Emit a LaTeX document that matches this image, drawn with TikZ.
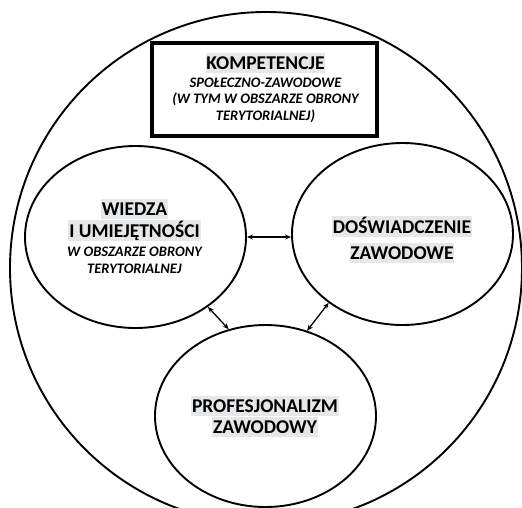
\documentclass[tikz,border=0pt]{standalone}
\usepackage{fontspec}
\setmainfont{Carlito}
\usetikzlibrary{shapes.geometric,arrows.meta}
\definecolor{hlgray}{RGB}{230,231,232}
\newcommand\hlx[1]{{\setlength{\fboxsep}{0.8pt}\colorbox{hlgray}{\rule[-3pt]{0pt}{18pt}#1}}}
\begin{document}
\begin{tikzpicture}[x=1pt,y=-1pt,
  oval/.style={ellipse,draw,line width=1.9pt,minimum width=221pt,minimum height=182pt,inner sep=0pt},
  bigtxt/.style={anchor=base,inner sep=0pt,font=\fontsize{19.5}{22}\selectfont\bfseries},
  smalltxt/.style={anchor=base,inner sep=0pt,font=\fontsize{14.5}{16.5}\selectfont\bfseries\itshape},
  biarrow/.style={{Stealth[length=6pt,width=5pt]}-{Stealth[length=6pt,width=5pt]},line width=1.3pt}]
\clip (0,0) rectangle (522,507);
\fill[white] (0,0) rectangle (522,507);
\node[circle,draw,line width=1.9pt,minimum size=512pt,inner sep=0pt] (outer) at (266,268) {};
\node[draw,line width=3.2pt,minimum width=225pt,minimum height=93pt,inner sep=0pt] (box) at (264.5,89.5) {};
\node[oval] (L) at (135.5,237) {};
\node[oval] (R) at (402.5,234) {};
\node[oval] (B) at (265.5,416) {};
% texts
\node[bigtxt] (k1) at (265.5,69) {\hlx{KOMPETENCJE}};
\node[smalltxt] (k2) at (265.5,87) {SPOŁECZNO-ZAWODOWE};
\node[smalltxt] (k3) at (265.5,103.5) {(W TYM W OBSZARZE OBRONY};
\node[smalltxt] (k4) at (265.5,120) {TERYTORIALNEJ)};
\node[bigtxt] (w1) at (134.5,215) {\hlx{WIEDZA}};
\node[bigtxt] (w2) at (134.5,237) {\hlx{I UMIEJĘTNOŚCI}};
\node[smalltxt] (w3) at (134.5,256) {W OBSZARZE OBRONY};
\node[smalltxt] (w4) at (134.5,273) {TERYTORIALNEJ};
\node[bigtxt] (d1) at (402,233) {\hlx{DOŚWIADCZENIE}};
\node[bigtxt] (d2) at (402,259) {\hlx{ZAWODOWE}};
\node[bigtxt] (p1) at (265,412) {\hlx{PROFESJONALIZM}};
\node[bigtxt] (p2) at (265,433) {\hlx{ZAWODOWY}};
% arrows
\draw[biarrow] (L.east) -- (L.east -| R.west);
\draw[biarrow] (L.-44) -- (B.113);
\draw[biarrow] (R.-137.2) -- (B.64.8);
\end{tikzpicture}
\end{document}
